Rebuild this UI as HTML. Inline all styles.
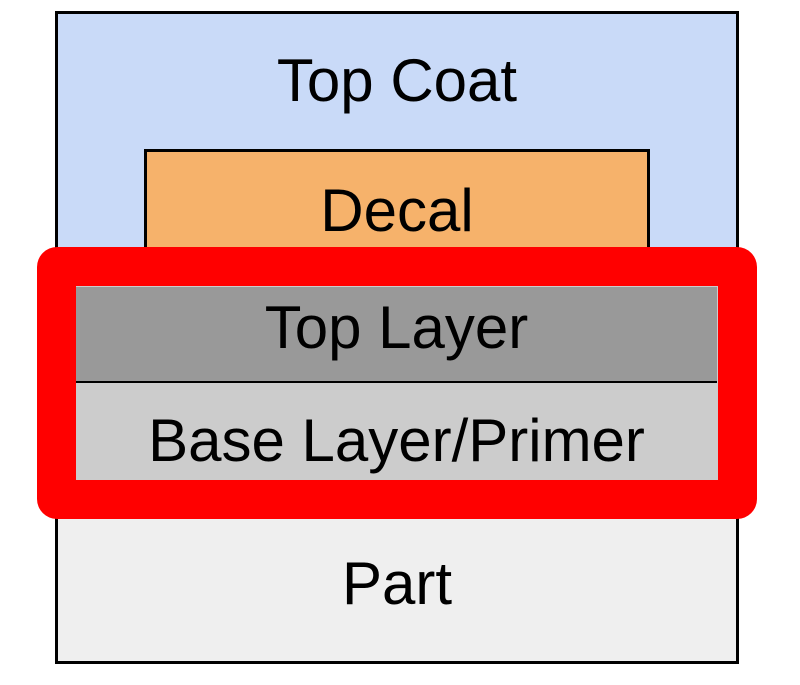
<!DOCTYPE html>
<html><head><style>
body{margin:0;width:800px;height:685px;background:#fff;position:relative;overflow:hidden;font-family:"Liberation Sans",sans-serif;}
div{position:absolute;box-sizing:border-box;}
.t{display:flex;align-items:center;justify-content:center;font-size:60px;color:#000;}
</style></head><body>
<div style="left:55px;top:11px;width:684px;height:653px;border:3px solid #000;background:#c9daf8;"></div>
<div class="t" style="left:58px;top:38px;width:678px;height:84px;">Top Coat</div>
<div class="t" style="left:144px;top:149px;width:506px;height:120px;border:3px solid #000;background:#f6b26b;align-items:flex-start;padding-top:24px;">Decal</div>
<div style="left:58px;top:500px;width:678px;height:161px;background:#efefef;"></div>
<div class="t" style="left:58px;top:512px;width:678px;height:142px;">Part</div>
<div style="left:37px;top:247px;width:720px;height:272px;border:39px solid #f00;border-radius:20px;background:#ccc;"></div>
<div class="t" style="left:76px;top:287px;width:641px;height:96px;background:#999;border-bottom:2px solid #000;padding-bottom:14px;">Top Layer</div>
<div class="t" style="left:76px;top:383px;width:641px;height:96px;padding-top:18px;">Base Layer/Primer</div>
</body></html>
